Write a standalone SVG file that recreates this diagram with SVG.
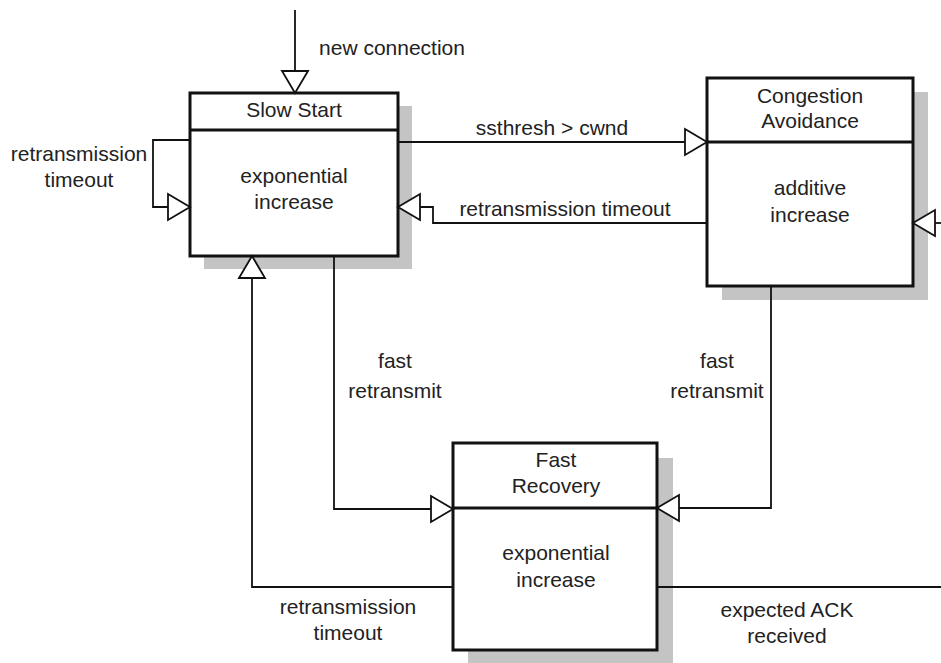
<svg xmlns="http://www.w3.org/2000/svg" width="941" height="663" viewBox="0 0 941 663">
<style>
.shadow{fill:#c4c4c4;stroke:none}
.box{fill:#fff;stroke:#111;stroke-width:3}
.div{stroke:#111;stroke-width:3}
.conn{fill:none;stroke:#111;stroke-width:1.8;marker-end:url(#arr)}
.plain{fill:none;stroke:#111;stroke-width:1.8}
text{font-family:"Liberation Sans",Arial,sans-serif;font-size:21px;fill:#222;text-anchor:middle}
</style>
<defs>
<marker id="arr" viewBox="0 0 22 26" refX="22" refY="13" markerWidth="22" markerHeight="26" markerUnits="userSpaceOnUse" orient="auto" overflow="visible">
<path d="M0,0 L22,13 L0,26 Z" fill="#fff" stroke="#111" stroke-width="1.8"/>
</marker>
</defs>
<rect width="941" height="663" fill="#fff"/>

<g id="slow-start">
<rect class="shadow" x="204" y="106" width="208" height="163"/>
<rect class="box" x="190" y="93" width="208" height="163"/>
<line class="div" x1="190" y1="130" x2="398" y2="130"/>
<text x="294" y="117">Slow Start</text>
<text x="294" y="183">exponential</text>
<text x="294" y="209">increase</text>
</g>

<g id="congestion-avoidance">
<rect class="shadow" x="722" y="92" width="206" height="208"/>
<rect class="box" x="707" y="78" width="206" height="208"/>
<line class="div" x1="707" y1="142" x2="913" y2="142"/>
<text x="810" y="103">Congestion</text>
<text x="810" y="128">Avoidance</text>
<text x="810" y="195">additive</text>
<text x="810" y="222">increase</text>
</g>

<g id="fast-recovery">
<rect class="shadow" x="468" y="458" width="205" height="207"/>
<rect class="box" x="453" y="443" width="204" height="207"/>
<line class="div" x1="453" y1="508" x2="657" y2="508"/>
<text x="556" y="467">Fast</text>
<text x="556" y="493">Recovery</text>
<text x="556" y="560">exponential</text>
<text x="556" y="587">increase</text>
</g>

<g id="connectors">
<path class="conn" d="M295,10 V93"/>
<path class="conn" d="M190,140 H153 V207 H190"/>
<path class="conn" d="M398,142 H707"/>
<path class="conn" d="M707,223 H433 V207 H398"/>
<path class="conn" d="M334,256 V509 H453"/>
<path class="conn" d="M771,286 V508 H657"/>
<path class="conn" d="M453,587 H252 V256"/>
<path class="plain" d="M657,587 H941"/>
<path class="conn" d="M945,223 H913"/>
</g>

<g id="labels">
<text x="392" y="55">new connection</text>
<text x="79" y="161">retransmission</text>
<text x="79" y="187">timeout</text>
<text x="552" y="135">ssthresh &gt; cwnd</text>
<text x="565" y="216">retransmission timeout</text>
<text x="395" y="368">fast</text>
<text x="395" y="398">retransmit</text>
<text x="717" y="368">fast</text>
<text x="717" y="398">retransmit</text>
<text x="348" y="614">retransmission</text>
<text x="348" y="640">timeout</text>
<text x="787" y="617">expected ACK</text>
<text x="787" y="643">received</text>
</g>
</svg>
